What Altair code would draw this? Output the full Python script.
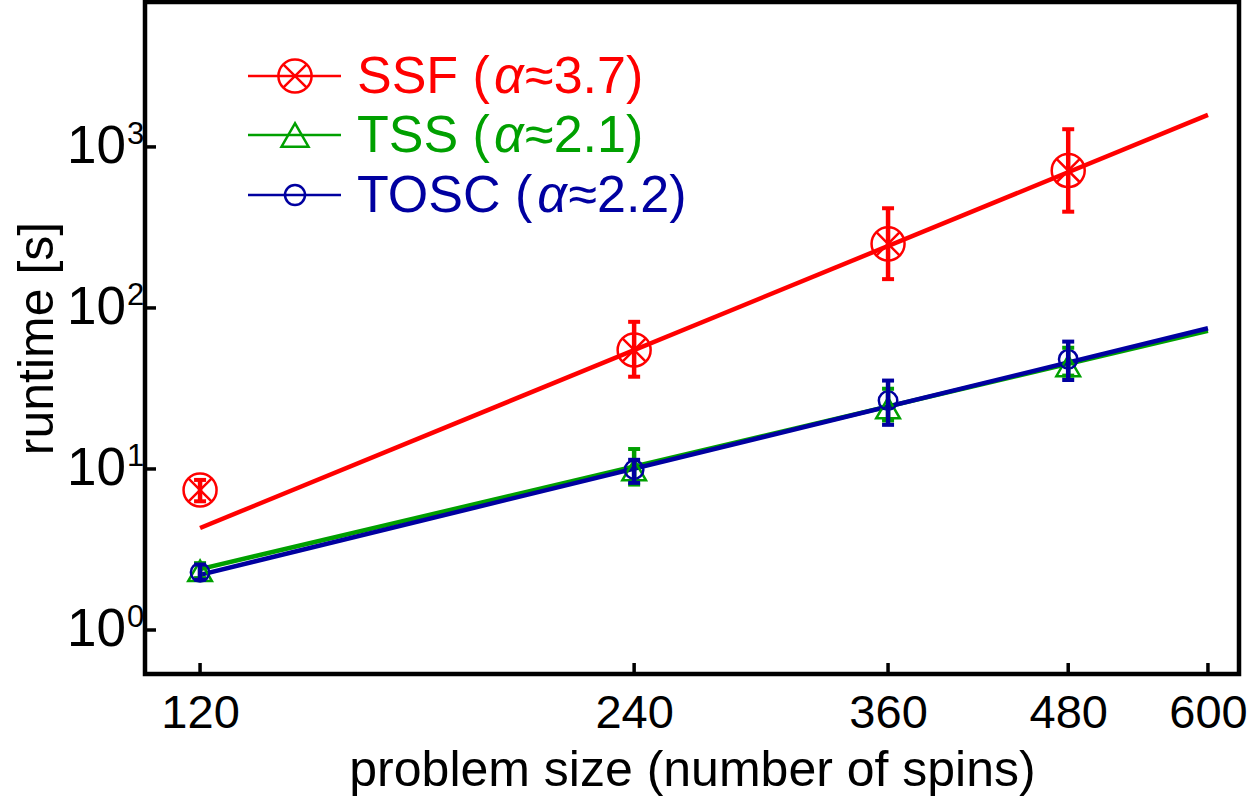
import altair as alt
import pandas as pd

FONT = "Liberation Sans"

# ---- measured runtimes (seconds) vs. number of spins ----
sizes = [120, 240, 360, 480]

ssf_mean = [7.4, 54.8, 250, 713]
ssf_lo = [6.3, 37.4, 151, 396]
ssf_hi = [8.55, 82, 416, 1288]

tss_mean = [2.33, 9.85, 23.9, 43.6]
tss_lo = [2.1, 8.0, 20.0, 38.0]
tss_hi = [2.6, 13.3, 31.5, 56.6]

tosc_mean = [2.28, 9.9, 26.6, 48.0]
tosc_lo = [2.05, 8.2, 18.8, 35.7]
tosc_hi = [2.55, 11.4, 35.4, 61.8]

# ---- power-law fits, evaluated at both ends of the size range ----
fit_sizes = [120, 600]
ssf_fit = [4.3, 1581]
tss_fit = [2.39, 72.0]
tosc_fit = [2.2, 74.8]

# ---- series styling / legend text ----
series = ["SSF", "TSS", "TOSC"]
alphas = ["3.7", "2.1", "2.2"]
colors = {"SSF": "#ff0000", "TSS": "#00a000", "TOSC": "#0000a0"}

# ---- axis ticks ----
x_ticks = [120, 240, 360, 480, 600]
y_ticks = [1, 10, 100, 1000]
y_exps = ["0", "1", "2", "3"]

W, H = 1094, 672

xscale = alt.Scale(type="log", domain=[109.9, 630.5], nice=False)
yscale = alt.Scale(type="log", domain=[0.533, 7943], nice=False)

x_axis = alt.Axis(
    values=x_ticks, format="d", labelFont=FONT, labelFontSize=47,
    labelColor="black", labelPadding=16, ticks=False, domain=False,
    grid=False, labelFlush=False, labelOverlap=False,
    title="problem size (number of spins)", titleFont=FONT,
    titleFontSize=50, titleFontWeight="normal", titleColor="black",
    titleY=111, titleBaseline="alphabetic",
)
y_axis = alt.Axis(
    values=y_ticks, labels=False, ticks=False, domain=False, grid=False,
    title="runtime [s]", titleFont=FONT, titleFontSize=50,
    titleFontWeight="normal", titleColor="black", titleAngle=270,
    titleX=-93, titleY=H / 2, titleAlign="center",
    titleBaseline="alphabetic",
)


def X(field):
    return alt.X(field, type="quantitative", scale=xscale, axis=x_axis)


def Y(field):
    return alt.Y(field, type="quantitative", scale=yscale, axis=y_axis)


def points_df(mean, lo, hi):
    return pd.DataFrame({"n": sizes, "t": mean, "lo": lo, "hi": hi})


data = {
    "SSF": points_df(ssf_mean, ssf_lo, ssf_hi),
    "TSS": points_df(tss_mean, tss_lo, tss_hi),
    "TOSC": points_df(tosc_mean, tosc_lo, tosc_hi),
}
fits = {
    "SSF": pd.DataFrame({"n": fit_sizes, "t": ssf_fit}),
    "TSS": pd.DataFrame({"n": fit_sizes, "t": tss_fit}),
    "TOSC": pd.DataFrame({"n": fit_sizes, "t": tosc_fit}),
}

layers = []

# inward tick marks on both axes
xtick_df = pd.DataFrame({"n": x_ticks})
layers.append(
    alt.Chart(xtick_df).mark_rule(color="black", strokeWidth=3.5).encode(
        x=X("n"), y=alt.value(H - 11), y2=alt.value(H)
    )
)
ytick_df = pd.DataFrame({"t": y_ticks, "e": y_exps})
layers.append(
    alt.Chart(ytick_df).mark_rule(color="black", strokeWidth=3.5).encode(
        y=Y("t"), x=alt.value(0), x2=alt.value(11)
    )
)
# y tick labels: "10" with a superscript exponent
layers.append(
    alt.Chart(ytick_df).mark_text(
        text="10", align="right", baseline="middle", font=FONT,
        fontSize=53, color="black"
    ).encode(y=Y("t"), x=alt.value(-19))
)
layers.append(
    alt.Chart(ytick_df).mark_text(
        align="left", baseline="alphabetic", font=FONT, fontSize=31,
        color="black", dy=-3
    ).encode(y=Y("t"), x=alt.value(-18), text="e:N")
)

# fit lines
for s in ["TSS", "TOSC", "SSF"]:
    layers.append(
        alt.Chart(fits[s]).mark_line(color=colors[s], strokeWidth=4.5).encode(
            x=X("n"), y=Y("t")
        )
    )

CROSS = "M -0.707 -0.707 L 0.707 0.707 M -0.707 0.707 L 0.707 -0.707"
marker_style = {
    "SSF": [("circle", 1090), (CROSS, 1090)],
    "TSS": [("triangle-up", 560)],
    "TOSC": [("circle", 340)],
}

# markers
for s in ["TSS", "TOSC", "SSF"]:
    for shape, size in marker_style[s]:
        layers.append(
            alt.Chart(data[s]).mark_point(
                shape=shape, size=size, filled=False, strokeWidth=2.5,
                color=colors[s], opacity=1
            ).encode(x=X("n"), y=Y("t"))
        )

# error bars with caps
for s in ["TSS", "TOSC", "SSF"]:
    df = data[s]
    layers.append(
        alt.Chart(df).mark_rule(color=colors[s], strokeWidth=4.5).encode(
            x=X("n"), y=Y("lo"), y2="hi:Q"
        )
    )
    caps = pd.concat([
        df[["n"]].assign(v=df["lo"]),
        df[["n"]].assign(v=df["hi"]),
    ])
    layers.append(
        alt.Chart(caps).mark_tick(
            color=colors[s], orient="horizontal", size=12, thickness=4,
            opacity=1
        ).encode(x=X("n"), y=Y("v"))
    )

# legend (upper left)
one = pd.DataFrame({"k": [0]})
legend_y = [74, 133, 193]
LF = 52
prefix_w = {"SSF": 2.556, "TSS": 2.556, "TOSC": 3.389}
legend_marker = {
    "SSF": [("circle", 1100), (CROSS, 1100)],
    "TSS": [("triangle-up", 729)],
    "TOSC": [("circle", 400)],
}
for s, a, ly in zip(series, alphas, legend_y):
    c = colors[s]
    layers.append(
        alt.Chart(one).mark_rule(color=c, strokeWidth=2.5).encode(
            x=alt.value(103), x2=alt.value(196), y=alt.value(ly)
        )
    )
    for shape, size in legend_marker[s]:
        layers.append(
            alt.Chart(one).mark_point(
                shape=shape, size=size, filled=False, strokeWidth=2.5,
                color=c, opacity=1
            ).encode(x=alt.value(150), y=alt.value(ly))
        )
    x0 = 212
    xa = x0 + prefix_w[s] * LF + 4
    xs = xa + 0.6 * LF
    base = ly + 17
    for txt, xp, style in [
        (f"{s} (", x0, "normal"),
        ("α", xa, "italic"),
        (f"≈{a})", xs, "normal"),
    ]:
        layers.append(
            alt.Chart(one).mark_text(
                text=txt, align="left", baseline="alphabetic", font=FONT,
                fontSize=LF, fontStyle=style, color=c
            ).encode(x=alt.value(xp), y=alt.value(base))
        )

chart = alt.layer(*layers).properties(
    width=W,
    height=H,
    background="white",
    autosize=alt.AutoSizeParams(type="none"),
    padding={"left": 145, "top": 2, "right": 11, "bottom": 124},
).configure_view(stroke="black", strokeWidth=4.5)

chart.save("out.html", embed_options={"renderer": "svg", "actions": False})
